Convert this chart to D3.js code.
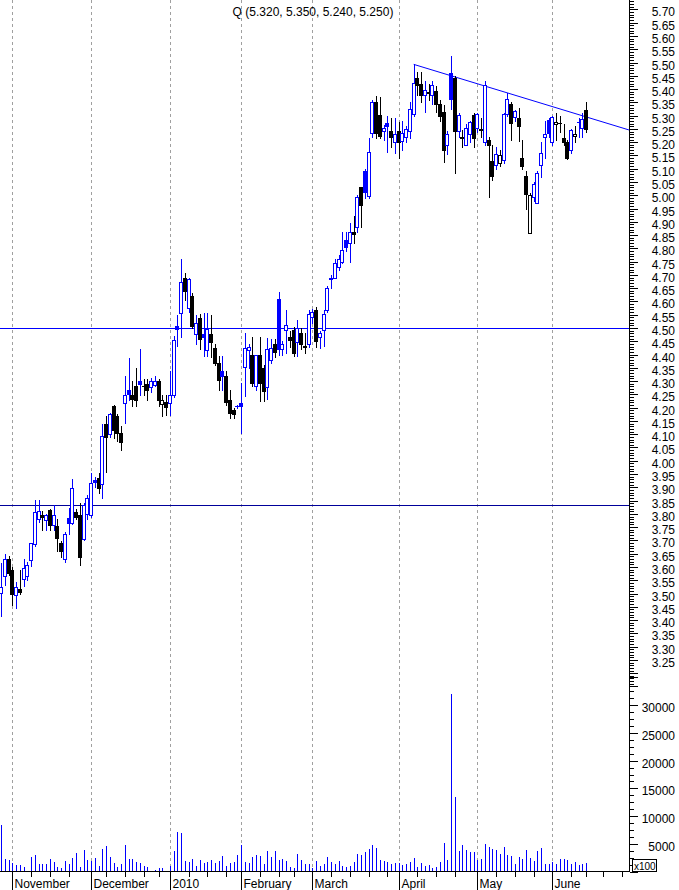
<!DOCTYPE html>
<html><head><meta charset="utf-8">
<script src="https://cdn.jsdelivr.net/npm/d3@7/dist/d3.min.js"></script>
<style>html,body{margin:0;padding:0;background:#fff}svg{display:block}</style>
</head><body><svg id="c" width="679" height="890"></svg>
<script>
// ---- data ----
const opens = [3.503,3.566,3.629,3.588,3.495,3.516,3.556,3.566,3.626,3.688,3.779,3.794,3.776,3.816,3.758,3.756,3.689,3.629,3.785,3.766,3.806,3.794,3.704,3.800,3.795,
3.927,3.936,3.911,4.140,4.102,4.207,4.170,4.105,4.218,4.268,4.249,4.280,4.301,4.281,4.290,4.278,4.286,4.301,4.215,4.220,
4.218,4.246,4.508,4.558,4.687,4.575,4.619,4.476,4.537,4.478,4.416,4.478,4.424,4.368,4.337,4.320,4.230,4.190,4.205,
4.218,4.353,4.418,4.399,4.280,4.399,4.349,4.278,4.380,4.440,4.609,4.421,4.494,4.466,4.493,4.449,4.480,4.430,4.441,
4.541,4.568,4.468,4.493,4.568,4.684,4.690,4.731,4.750,4.831,4.819,4.860,4.879,5.030,5.093,4.997,5.233,5.352,5.302,5.243,5.273,5.243,5.200,
5.241,5.205,5.220,5.242,5.305,5.443,5.420,5.377,5.390,5.377,5.393,5.343,5.314,5.191,5.461,5.443,5.242,5.218,5.191,5.232,5.301,
5.255,5.250,5.201,5.210,5.130,5.114,5.120,5.132,5.305,5.343,5.293,5.291,5.142,5.072,4.859,4.992,4.970,5.114,5.220,5.283,
5.201,5.270,5.274,5.217,5.201,5.170,5.223,5.276,5.255,5.320];
const highs = [3.616,3.647,3.640,3.600,3.545,3.588,3.629,3.620,3.690,3.854,3.852,3.810,3.800,3.820,3.835,3.779,3.697,3.730,3.823,3.930,3.820,3.841,3.840,3.870,3.954,
3.940,3.954,4.140,4.170,4.180,4.210,4.175,4.130,4.320,4.387,4.299,4.349,4.422,4.308,4.308,4.310,4.320,4.308,4.249,4.246,
4.337,4.470,4.550,4.759,4.709,4.690,4.631,4.550,4.553,4.556,4.556,4.550,4.440,4.395,4.395,4.337,4.268,4.200,4.210,
4.293,4.481,4.440,4.466,4.400,4.466,4.362,4.462,4.460,4.460,4.637,4.450,4.568,4.490,4.503,4.531,4.500,4.480,4.568,
4.570,4.580,4.490,4.568,4.660,4.700,4.760,4.775,4.862,4.860,4.894,4.920,5.000,5.030,5.100,5.215,5.360,5.373,5.370,5.265,5.300,5.290,5.290,
5.276,5.280,5.260,5.352,5.493,5.463,5.463,5.430,5.420,5.430,5.410,5.360,5.339,5.241,5.523,5.450,5.310,5.245,5.270,5.280,5.310,
5.310,5.290,5.430,5.220,5.190,5.180,5.170,5.310,5.385,5.350,5.320,5.330,5.210,5.090,5.010,5.050,5.090,5.200,5.280,5.290,
5.300,5.310,5.300,5.270,5.210,5.250,5.260,5.290,5.310,5.350];
const lows = [3.415,3.531,3.570,3.456,3.447,3.497,3.528,3.550,3.603,3.680,3.770,3.740,3.740,3.739,3.739,3.660,3.639,3.620,3.723,3.760,3.780,3.607,3.700,3.780,3.790,
3.900,3.879,3.860,3.957,4.090,4.086,4.073,4.040,4.142,4.230,4.207,4.207,4.249,4.249,4.230,4.260,4.280,4.207,4.170,4.174,
4.174,4.240,4.431,4.468,4.606,4.560,4.500,4.440,4.421,4.393,4.393,4.390,4.362,4.268,4.268,4.210,4.161,4.160,4.200,
4.105,4.243,4.350,4.280,4.268,4.224,4.224,4.234,4.370,4.390,4.400,4.400,4.406,4.430,4.393,4.393,4.420,4.405,4.430,
4.520,4.430,4.424,4.431,4.560,4.650,4.690,4.720,4.746,4.790,4.750,4.820,4.860,4.880,4.990,4.990,5.220,5.214,5.214,5.210,5.163,5.180,5.160,
5.142,5.170,5.200,5.214,5.300,5.377,5.350,5.314,5.360,5.345,5.314,5.280,5.126,5.155,5.323,5.085,5.220,5.180,5.190,5.200,5.180,
5.240,5.220,5.190,4.995,5.057,5.100,5.110,5.120,5.300,5.210,5.280,5.206,5.100,4.950,4.859,4.980,4.970,5.070,5.140,5.220,
5.190,5.210,5.240,5.190,5.135,5.160,5.200,5.220,5.220,5.240];
const closes = [3.526,3.629,3.578,3.497,3.526,3.506,3.597,3.606,3.689,3.808,3.812,3.789,3.797,3.758,3.797,3.710,3.660,3.726,3.766,3.898,3.789,3.639,3.835,3.860,3.917,
3.920,3.898,4.095,4.090,4.177,4.117,4.105,4.070,4.249,4.250,4.233,4.230,4.290,4.280,4.268,4.299,4.301,4.230,4.228,4.203,
4.246,4.453,4.498,4.672,4.641,4.684,4.508,4.520,4.458,4.468,4.497,4.449,4.368,4.303,4.320,4.220,4.180,4.175,4.205,
4.208,4.424,4.428,4.293,4.399,4.293,4.261,4.421,4.425,4.410,4.421,4.441,4.512,4.456,4.406,4.500,4.440,4.432,4.553,
4.560,4.450,4.481,4.552,4.650,4.690,4.746,4.760,4.792,4.804,4.860,4.853,4.995,4.963,5.014,5.164,5.352,5.233,5.225,5.255,5.262,5.220,5.232,
5.201,5.235,5.250,5.323,5.423,5.414,5.377,5.395,5.386,5.414,5.343,5.300,5.172,5.232,5.364,5.242,5.304,5.214,5.255,5.276,5.217,
5.305,5.247,5.414,5.190,5.072,5.155,5.150,5.305,5.364,5.273,5.317,5.261,5.111,5.004,5.001,5.042,5.082,5.160,5.232,5.235,
5.293,5.275,5.274,5.201,5.142,5.245,5.232,5.277,5.289,5.250];
const volumes = [8450,2340,2040,1500,1140,1140,780,0,2700,2940,1320,1320,1320,2340,1680,780,600,1980,1320,2400,3300,780,3840,2160,
1860,2400,960,4020,4560,2700,1500,780,1320,4740,2340,2340,1680,1500,960,780,0,240,600,600,0,
960,3660,7080,6900,1860,1680,2340,960,2160,1500,1680,2160,1500,1860,2760,960,1500,1680,2940,
4740,1680,1500,2580,2940,2760,1320,3660,2700,3660,2160,2340,1980,780,720,3240,2160,1320,1320,
600,1980,1080,1320,2700,1680,1320,1980,960,780,1080,1800,3120,2940,3600,4020,4740,4320,2160,1920,1800,1320,1500,
1500,1140,1380,1680,2520,900,1620,960,1260,600,900,1680,5220,2160,32040,13530,3770,4850,3950,3600,3600,
2040,2340,5030,4550,4130,3950,3230,4490,3050,2870,1320,2700,2340,3950,2520,1980,3770,4310,1440,1440,
1680,1320,2340,2340,2160,1320,1800,1140,1320,1620];
const monthNames = ["November","December","2010","February","March","April","May","June"];
const monthStart = [3,24,45,64,83,106,127,147];
const weekTicks = [8,13,18,28,33,38,42,50,55,60,69,74,78,88,93,98,103,111,116,121,132,137,142,152,156,160.6,165.6];
const levelLines = [4.50, 3.833];
const trendLine = [[110,5.493],[167.4,5.246]];
const volLabels = [5000,10000,15000,20000,25000,30000];

// ---- drawing ----
const svg = d3.select('#c');
const FONT = "'Liberation Sans', Arial, sans-serif";
const x = d3.scaleLinear().domain([0,156]).range([1.2,586.2]);
const y = d3.scaleLinear().domain([3.25,5.70]).range([659.9,9.4]);
const yv = d3.scaleLinear().domain([0,30000]).range([871.8,705]);
const AX = 629.5, BASE = 871.5;
const px = v => Math.round(v) + 0.5;
const BLUE = '#0000ff', BLACK = '#000000';

svg.append('rect').attr('width',679).attr('height',890).attr('fill','#fff');

// month grid (dashed)
svg.append('g').selectAll('line').data(monthStart).join('line')
  .attr('x1',d=>px(x(d))).attr('x2',d=>px(x(d)))
  .attr('y1',0).attr('y2',871)
  .attr('stroke','#a0a0a0').attr('stroke-dasharray','3,3').attr('shape-rendering','crispEdges');

// horizontal level lines
svg.append('g').selectAll('line').data(levelLines).join('line')
  .attr('x1',0).attr('x2',AX)
  .attr('y1',d=>px(y(d))).attr('y2',d=>px(y(d)))
  .attr('stroke',(d,i)=>i===0?'#0000ff':'#00009a').attr('shape-rendering','crispEdges');

// trend line
svg.append('line')
  .attr('x1',x(trendLine[0][0])).attr('y1',y(trendLine[0][1]))
  .attr('x2',x(trendLine[1][0])).attr('y2',y(trendLine[1][1]))
  .attr('stroke',BLUE).attr('stroke-width',1);

// candles
const data = closes.map((c,i)=>({i,o:opens[i],h:highs[i],l:lows[i],c,
  up: i===0 ? c>=opens[i] : c>=closes[i-1]}));
const gC = svg.append('g').attr('shape-rendering','crispEdges');
gC.selectAll('line.w').data(data).join('line').attr('class','w')
  .attr('x1',d=>px(x(d.i))).attr('x2',d=>px(x(d.i)))
  .attr('y1',d=>Math.round(y(d.h))).attr('y2',d=>Math.round(y(d.l))+1)
  .attr('stroke',d=>d.up?BLUE:BLACK);
data.forEach(d=>{
  const cx = Math.round(x(d.i));
  const top = Math.round(y(Math.max(d.o,d.c)));
  const bot = Math.round(y(Math.min(d.o,d.c)));
  const col = d.up?BLUE:BLACK;
  if (bot-top < 1) {
    gC.append('line').attr('x1',cx-2).attr('x2',cx+2).attr('y1',top+0.5).attr('y2',top+0.5).attr('stroke',col);
  } else {
    gC.append('rect').attr('x',cx-1.5).attr('width',3).attr('y',top+0.5).attr('height',bot-top)
      .attr('fill', d.c<d.o ? col : '#fff').attr('stroke',col);
  }
});

// volume bars
svg.append('g').attr('shape-rendering','crispEdges').selectAll('line').data(volumes.map((v,i)=>({v,i})).filter(d=>d.v>0)).join('line')
  .attr('x1',d=>px(x(d.i))).attr('x2',d=>px(x(d.i)))
  .attr('y1',871).attr('y2',d=>Math.round(yv(d.v)))
  .attr('stroke',BLUE);

// axes
const gA = svg.append('g').attr('shape-rendering','crispEdges').attr('stroke',BLACK);
gA.append('line').attr('x1',AX).attr('x2',AX).attr('y1',0).attr('y2',BASE);
gA.append('line').attr('x1',0).attr('x2',AX).attr('y1',BASE).attr('y2',BASE);
const pTicks = d3.range(315,574).map(k=>k/100);
gA.selectAll('line.pt').data(pTicks).join('line').attr('class','pt')
  .attr('x1',AX).attr('x2',d=>AX+(Math.round(d*100)%5===0?8:4))
  .attr('y1',d=>px(y(d))).attr('y2',d=>px(y(d)));
const vTicks = d3.range(0,35001,1250);
gA.selectAll('line.vt').data(vTicks).join('line').attr('class','vt')
  .attr('x1',AX).attr('x2',d=>AX+(d%5000===0?8:4))
  .attr('y1',d=>px(yv(d))).attr('y2',d=>px(yv(d)));
gA.selectAll('line.wk').data(weekTicks).join('line').attr('class','wk')
  .attr('x1',d=>px(x(d))).attr('x2',d=>px(x(d))).attr('y1',BASE).attr('y2',877);
gA.selectAll('line.mo').data(monthStart).join('line').attr('class','mo')
  .attr('x1',d=>px(x(d))).attr('x2',d=>px(x(d))).attr('y1',BASE).attr('y2',890);

const pLabels = d3.range(325,571,5).map(k=>k/100);
svg.append('g').selectAll('text').data(pLabels).join('text')
  .attr('x',675).attr('y',d=>y(d)+7).attr('text-anchor','end')
  .attr('font-family',FONT).attr('font-size',12).attr('fill',BLACK)
  .text(d=>d.toFixed(2));
svg.append('g').selectAll('text').data(volLabels).join('text')
  .attr('x',675).attr('y',d=>yv(d)+7).attr('text-anchor','end')
  .attr('font-family',FONT).attr('font-size',12).attr('fill',BLACK)
  .text(d=>d);
svg.append('g').selectAll('text').data(monthStart).join('text')
  .attr('x',d=>px(x(d))+2).attr('y',888)
  .attr('font-family',FONT).attr('font-size',12).attr('fill',BLACK)
  .text((d,i)=>monthNames[i]);

// x100 box
svg.append('rect').attr('x',632.5).attr('y',859.5).attr('width',24).attr('height',12)
  .attr('fill','#fff').attr('stroke',BLACK).attr('shape-rendering','crispEdges');
svg.append('text').attr('x',634).attr('y',869.5).attr('font-family',FONT).attr('font-size',10).text('x100');

// title
const L = closes.length-1;
svg.append('text').attr('x',313).attr('y',16).attr('text-anchor','middle')
  .attr('font-family',FONT).attr('font-size',12).attr('fill',BLACK)
  .text(`Q (${opens[L].toFixed(3)}, ${highs[L].toFixed(3)}, ${lows[L].toFixed(3)}, ${closes[L].toFixed(3)})`);
</script></body></html>
